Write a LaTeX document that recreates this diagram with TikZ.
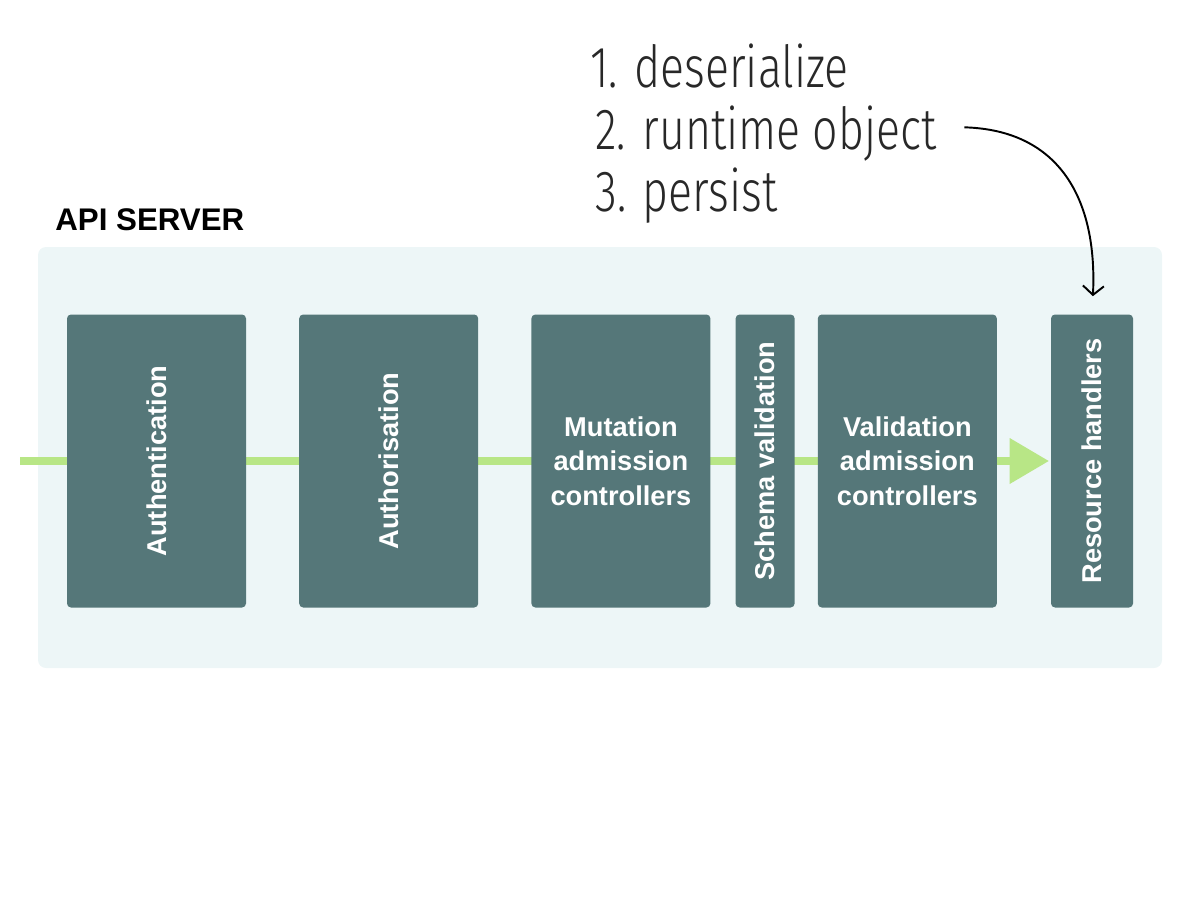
\documentclass[tikz,border=0pt]{standalone}
\usepackage{fontspec}
\setmainfont{Liberation Sans}
\newfontfamily\handfont[FakeStretch=0.77]{Fira Sans Light}
\usepackage{graphicx}
\usepackage{xcolor}
\definecolor{panelbg}{RGB}{237, 246, 247}
\definecolor{stagefill}{RGB}{ 85, 119, 121}
\definecolor{flowgreen}{RGB}{184, 230, 134}
\definecolor{inkgray}{RGB}{ 40,  40,  40}
\usetikzlibrary{arrows.meta, positioning, backgrounds}
\tikzset{
  panel/.style={fill=panelbg, draw=none, rounded corners=0.16cm,
    minimum width=22.48cm, minimum height=8.42cm, inner sep=0pt},
  stagebox/.style={fill=stagefill, draw=none, rounded corners=0.08cm,
    minimum width=3.58cm, minimum height=5.86cm, inner sep=0pt,
    text=white, align=center,
    font=\fontsize{15.5}{19.5}\selectfont\bfseries},
  narrowbox/.style={stagebox, minimum width=1.18cm},
  handlerbox/.style={stagebox, minimum width=1.64cm},
  titletext/.style={font=\fontsize{17.8}{20}\selectfont\bfseries, inner sep=0pt},
  handnote/.style={font=\handfont\fontsize{33}{36}\selectfont, text=inkgray,
    inner sep=0pt, anchor=base west},
  flowline/.style={line width=0.16cm, color=flowgreen,
    -{Triangle[length=0.78cm, width=0.92cm, line width=0pt]}},
  handarrow/.style={line width=1.1pt, color=black,
    -{Straight Barb[length=0.18cm, width=0.42cm]}}
}
\begin{document}
\begin{tikzpicture}[node distance=1.05cm]
  \useasboundingbox (0,0) rectangle (24,18);

  % notes
  \node[handnote] (step1) at (11.8,16.24) {1. deserialize};
  \node[handnote] (step2) at (11.9,15.0) {2. runtime object};
  \node[handnote] (step3) at (11.9,13.76) {3. persist};

  \node[titletext, anchor=base west] (apilabel) at (1.1,13.4) {API SERVER};

  % stages
  \node[stagebox] (authn) at (3.13,8.78) {\rotatebox{90}{Authentication}};
  \node[stagebox, right=of authn] (authz) {\rotatebox{90}{Authorisation}};
  \node[stagebox, right=of authz] (mutating)
    {Mutation\\admission\\controllers};
  \node[narrowbox, right=0.49cm of mutating] (schema)
    {\rotatebox{90}{Schema validation}};
  \node[stagebox, right=0.45cm of schema] (validating)
    {Validation\\admission\\controllers};
  \node[handlerbox, right=1.07cm of validating] (resource)
    {\rotatebox{90}{Resource handlers}};

  \coordinate (feed) at (0.4,8.78);

  \begin{scope}[on background layer]
    \node[panel] (server) at (12,8.85) {};
    \draw[flowline, shorten >=0.04cm] (feed) -- (resource.west);
  \end{scope}

  \draw[handarrow, shorten <=0.55cm, shorten >=0.36cm]
    ([yshift=0.15cm]step2.east) .. controls (21.2,15.4) and (21.95,14.0) .. (resource.north);

\end{tikzpicture}
\end{document}
